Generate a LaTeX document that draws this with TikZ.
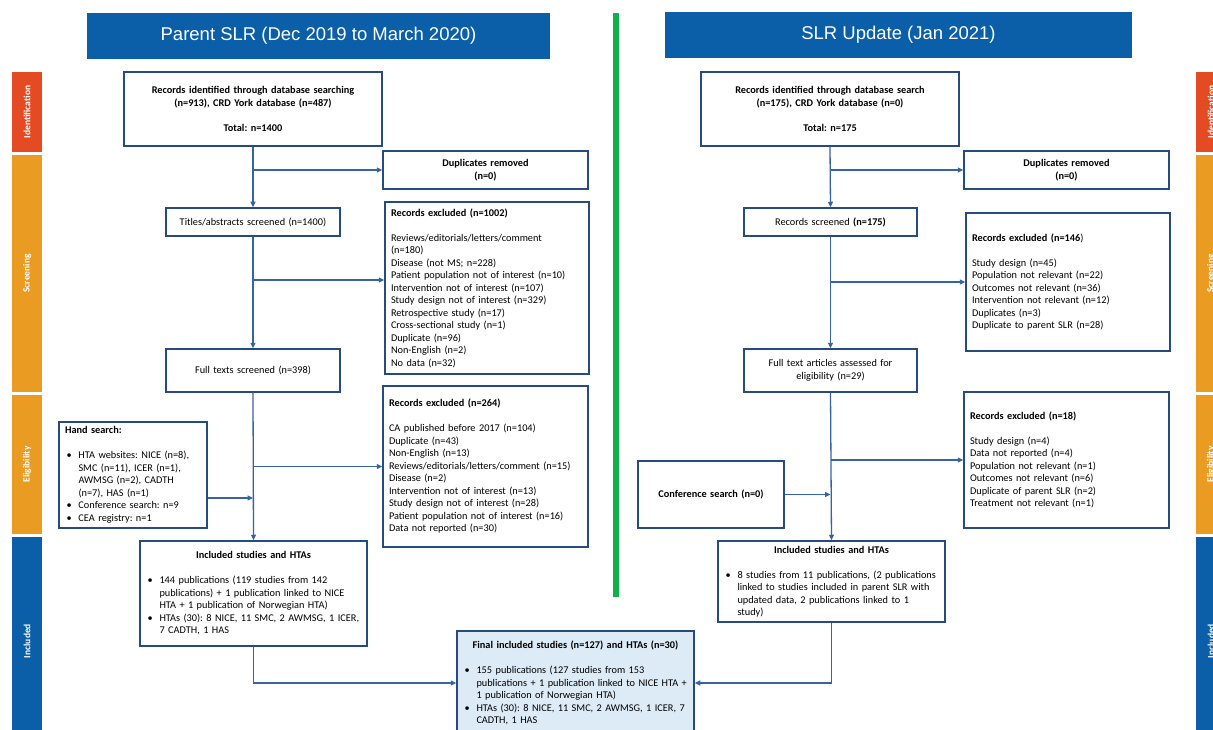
\documentclass[tikz,border=0pt]{standalone}
\usepackage{fontspec}
\setmainfont{Carlito}
\newfontfamily\hdfont{Liberation Sans}
\usetikzlibrary{arrows.meta}
\frenchspacing

\definecolor{hdblue}{HTML}{0B5EA8}
\definecolor{stripred}{HTML}{E54B22}
\definecolor{stageorange}{HTML}{E99B22}
\definecolor{divgreen}{HTML}{12B04C}
\definecolor{boxblue}{HTML}{274B7E}
\definecolor{lineblue}{HTML}{3763A0}
\definecolor{finalfill}{HTML}{DDEBF7}

\newcommand{\bul}[1]{\makebox[13.5pt][l]{\hspace{1.5pt}\textbullet}\mbox{#1}}
\newcommand{\ind}[1]{\hspace*{13.5pt}\mbox{#1}}
\newcommand{\boxhead}[1]{\makebox[\linewidth]{\bfseries #1}}

\begin{document}
\begin{tikzpicture}[x=1pt, y=-1pt,
    box/.style={draw=boxblue, line width=1.5pt, inner xsep=6pt, inner ysep=0pt,
        font=\fontsize{10.3}{12.5}\selectfont},
    cbox/.style={box, align=center},
    lbox/.style={box, align=left},
    arr/.style={draw=lineblue, line width=1.3pt, -{Triangle[length=5.5pt,width=5pt]}},
    strip/.style={rotate=90, minimum height=30pt, inner sep=0pt, text=white,
        font=\fontsize{9.5}{10}\selectfont\bfseries},
    header/.style={fill=hdblue, text=white, minimum height=46pt, inner sep=0pt,
        font=\hdfont\fontsize{18.5}{20}\selectfont}]
    \useasboundingbox (0,0) rectangle (1213,730);
    \clip (0,0) rectangle (1213,730);
    \fill[white] (0,0) rectangle (1213,730);

    % Stage strips (both sides)
    \foreach \sx/\sn in {27/L, 1211/R} {
        \node[strip, fill=stripred, minimum width=80pt] (id\sn) at (\sx,112) {Identification};
        \node[strip, fill=stageorange, minimum width=237pt] (sc\sn) at (\sx,273.5) {Screening};
        \node[strip, fill=stageorange, minimum width=139pt] (el\sn) at (\sx,464.5) {Eligibility};
        \node[strip, fill=hdblue, minimum width=208pt] (in\sn) at (\sx,641) {Included};
    }

    % Headers
    \node[header, minimum width=463pt] (hdL) at (318.5,36) {Parent SLR (Dec 2019 to March 2020)};
    \node[header, minimum width=467pt] (hdR) at (898.5,35) {SLR Update (Jan 2021)};

    % Divider
    \fill[divgreen] (613,13) rectangle (619,597);

    % Parent SLR
    \node[cbox, text width=246pt, minimum height=74pt] (identL) at (253,109)
        {\bfseries Records identified through database searching\\(n=913), CRD York database (n=487)\\[12.5pt]Total: n=1400};
    \node[cbox, text width=193pt, minimum height=38pt] (dupL) at (485.5,170)
        {\bfseries Duplicates removed\\(n=0)};
    \node[cbox, text width=162pt, minimum height=28pt] (titles) at (253,222)
        {Titles/abstracts screened (n=1400)};
    \node[lbox, text width=192pt, minimum height=172pt] (exclA) at (487,288)
        {\textbf{Records excluded (n=1002)}\\[12.5pt]
         Reviews/editorials/letters/comment\\(n=180)\\Disease (not MS; n=228)\\
         Patient population not of interest (n=10)\\Intervention not of interest (n=107)\\
         Study design not of interest (n=329)\\Retrospective study (n=17)\\
         Cross-sectional study (n=1)\\Duplicate (n=96)\\Non-English (n=2)\\No data (n=32)};
    \node[cbox, text width=162pt, minimum height=43pt] (fullL) at (253,370.5)
        {Full texts screened (n=398)};
    \node[lbox, text width=193pt, minimum height=161pt] (exclB) at (485.5,466.5)
        {\textbf{Records excluded (n=264)}\\[12.5pt]
         CA published before 2017 (n=104)\\Duplicate (n=43)\\Non-English (n=13)\\
         Reviews/editorials/letters/comment (n=15)\\Disease (n=2)\\
         Intervention not of interest (n=13)\\Study design not of interest (n=28)\\
         Patient population not of interest (n=16)\\Data not reported (n=30)};
    \node[lbox, text width=136pt, minimum height=106pt] (hand) at (133,475)
        {\textbf{Hand search:}\\[12.5pt]
         \bul{HTA websites: NICE (n=8),}\\\ind{SMC (n=11), ICER (n=1),}\\
         \ind{AWMSG (n=2), CADTH}\\\ind{(n=7), HAS (n=1)}\\
         \bul{Conference search: n=9}\\\bul{CEA registry: n=1}};
    \node[lbox, text width=215pt, minimum height=105pt] (inclL) at (253.5,593.5)
        {\boxhead{Included studies and HTAs}\\[12.5pt]
         \bul{144 publications (119 studies from 142}\\
         \ind{publications) + 1 publication linked to NICE}\\
         \ind{HTA + 1 publication of Norwegian HTA)}\\
         \bul{HTAs (30): 8 NICE, 11 SMC, 2 AWMSG, 1 ICER,}\\\ind{7 CADTH, 1 HAS}};

    % Final
    \node[lbox, fill=finalfill, text width=225pt, minimum height=104pt] (final) at (575.5,683)
        {\boxhead{Final included studies (n=127) and HTAs (n=30)}\\[12.5pt]
         \bul{155 publications (127 studies from 153}\\
         \ind{publications + 1 publication linked to NICE HTA +}\\
         \ind{1 publication of Norwegian HTA)}\\
         \bul{HTAs (30): 8 NICE, 11 SMC, 2 AWMSG, 1 ICER, 7}\\\ind{CADTH, 1 HAS}};

    % SLR update
    \node[cbox, text width=246pt, minimum height=74pt] (identR) at (830,109)
        {\bfseries Records identified through database search\\(n=175), CRD York database (n=0)\\[12.5pt]Total: n=175};
    \node[cbox, text width=193pt, minimum height=38pt] (dupR) at (1066.5,170)
        {\bfseries Duplicates removed\\(n=0)};
    \node[cbox, text width=161pt, minimum height=28pt] (screenR) at (830.5,222)
        {Records screened \textbf{(n=175)}};
    \node[lbox, text width=192pt, minimum height=138pt] (exclC) at (1068,282)
        {\textbf{Records excluded (n=146})\\[12.5pt]
         Study design (n=45)\\Population not relevant (n=22)\\Outcomes not relevant (n=36)\\
         Intervention not relevant (n=12)\\Duplicates (n=3)\\Duplicate to parent SLR (n=28)};
    \node[cbox, text width=161pt, minimum height=43pt] (fullR) at (830.5,370.5)
        {Full text articles assessed for\\eligibility (n=29)};
    \node[lbox, text width=193pt, minimum height=136pt] (exclD) at (1066.5,460)
        {\textbf{Records excluded (n=18)}\\[12.5pt]
         Study design (n=4)\\Data not reported (n=4)\\Population not relevant (n=1)\\
         Outcomes not relevant (n=6)\\Duplicate of parent SLR (n=2)\\Treatment not relevant (n=1)};
    \node[cbox, text width=134pt, minimum height=67pt] (conf) at (711,494.5)
        {\bfseries Conference search (n=0)};
    \node[lbox, text width=215pt, minimum height=81pt] (inclR) at (831.5,581.5)
        {\boxhead{Included studies and HTAs}\\[12.5pt]
         \bul{8 studies from 11 publications, (2 publications}\\
         \ind{linked to studies included in parent SLR with}\\
         \ind{updated data, 2 publications linked to 1}\\\ind{study)}};

    % Connectors, parent SLR
    \draw[arr] (identL.south) -- (titles.north);
    \draw[arr] (identL.south |- dupL.west) -- (dupL.west);
    \draw[arr] (titles.south) -- (fullL.north);
    \coordinate (exAin) at ([yshift=8pt]exclA.west);
    \draw[arr] (titles.south |- exAin) -- (exAin);
    \draw[arr] (fullL.south) -- (inclL.north);
    \draw[arr] (fullL.south |- exclB.west) -- (exclB.west);
    \coordinate (handout) at ([yshift=-23pt]hand.east);
    \draw[arr] (handout) -- (fullL.south |- handout);
    \draw[arr] (inclL.south) |- (final.west);

    % Connectors, update
    \draw[arr] (identR.south) -- (screenR.north);
    \draw[arr] (identR.south |- dupR.west) -- (dupR.west);
    \draw[arr] (screenR.south) -- (fullR.north);
    \draw[arr] (screenR.south |- exclC.west) -- (exclC.west);
    \draw[arr] (fullR.south) -- (inclR.north);
    \draw[arr] (fullR.south |- exclD.west) -- (exclD.west);
    \draw[arr] (conf.east) -- (fullR.south |- conf.east);
    \draw[arr] (inclR.south) |- (final.east);
\end{tikzpicture}
\end{document}
